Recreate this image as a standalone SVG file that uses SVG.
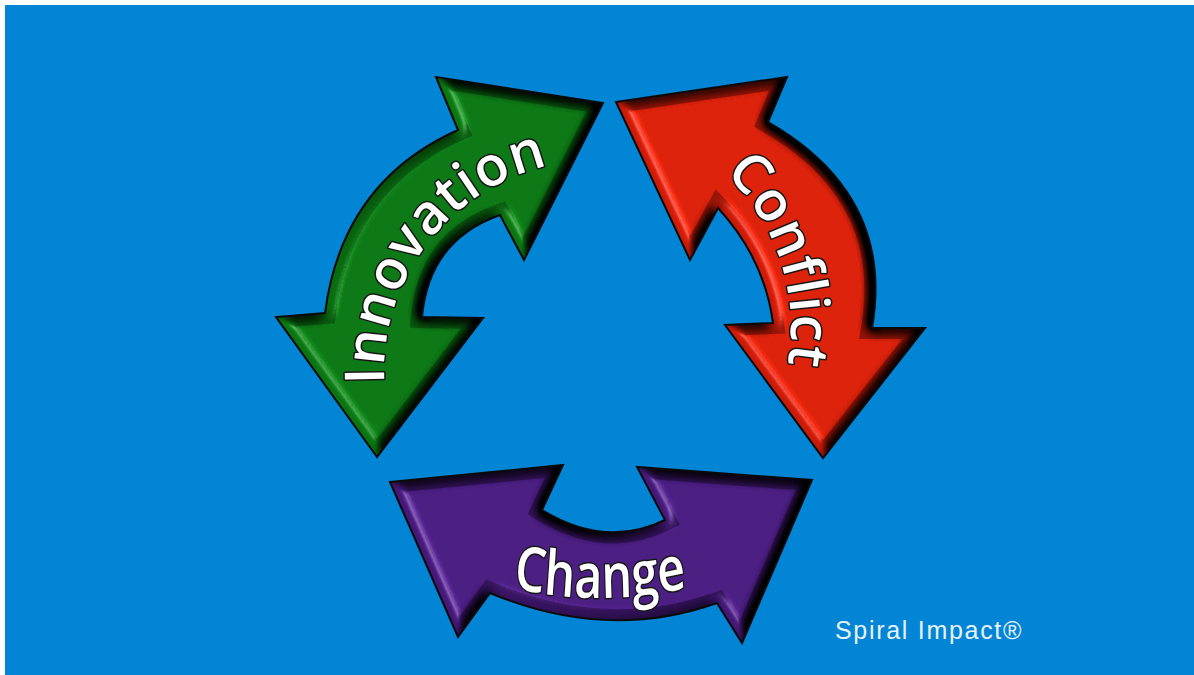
<svg xmlns="http://www.w3.org/2000/svg" xmlns:xlink="http://www.w3.org/1999/xlink" width="1194" height="675" viewBox="0 0 1194 675">
<defs>
<style>
.lbl{font-family:"Open Sans","Noto Sans",sans-serif;font-weight:600;fill:#ffffff;stroke:#161616;stroke-width:3;paint-order:stroke;stroke-linejoin:round}
.outline{fill:none;stroke:#0a0a0a;stroke-width:2;stroke-linejoin:miter}
.band{fill:none;stroke-width:22;stroke-linejoin:miter;opacity:0.55}
.brand{font-family:"Liberation Sans",Arial,sans-serif;font-size:25px;fill:#e8f2fb;letter-spacing:1.7px}
</style>
<filter id="bevel" x="-5%" y="-5%" width="110%" height="110%" color-interpolation-filters="sRGB">
<feGaussianBlur in="SourceAlpha" stdDeviation="6" result="b"/>
<feDiffuseLighting in="b" surfaceScale="11" diffuseConstant="1" lighting-color="#ffffff" result="l"><feDistantLight azimuth="160" elevation="45"/></feDiffuseLighting>
<feSpecularLighting in="b" surfaceScale="11" specularConstant="0.7" specularExponent="40" lighting-color="#ffffff" result="s"><feDistantLight azimuth="160" elevation="45"/></feSpecularLighting>
<feComposite in="s" in2="SourceAlpha" operator="in" result="s2"/>
<feComposite in="SourceGraphic" in2="l" operator="arithmetic" k1="1.414" k2="0" k3="0" k4="0" result="lit"/>
<feComposite in="lit" in2="s2" operator="arithmetic" k1="0" k2="1" k3="0.4" k4="0"/>
</filter>
<path id="pG" d="M377,457 L276,317 L325,313 Q342,182 458,130 L436,77 L603,103 L524,260 L500,215 Q429,240 422,317 L483,318 Z"/>
<path id="pR" d="M616,102 L787,77 L768,122 Q895,195 872,328 L925,328 L823,458 L725,325 L773,323 Q764.5,258.5 718,208 L690,260 Z"/>
<path id="pP" d="M390,482 L563,465 L542,510 Q606.5,549 665,520 L637,467 L812,480 L742,643 L717,603 Q606.5,642 490,593 L458,637 Z"/>
<clipPath id="cG"><use href="#pG"/></clipPath>
<clipPath id="cR"><use href="#pR"/></clipPath>
<clipPath id="cP"><use href="#pP"/></clipPath>
<path id="tG" d="M400.9,454.8 A212,212 0 0 1 621.8,161.6"/>
<path id="tR" d="M622.7,119.6 A212,212 0 0 1 736.8,468.6"/>
<path id="tP" d="M480,586 Q600,610 720,586"/>
</defs>
<rect x="0" y="0" width="1194" height="675" fill="#ffffff"/>
<rect x="5" y="5" width="1189" height="670" fill="#0385d6"/>
<g id="connectors"></g>
<g id="innovation">
<g filter="url(#bevel)">
<use href="#pG" fill="#0b7614"/>
<use href="#pG" class="band" stroke="#053a08" clip-path="url(#cG)"/>
</g>
<use href="#pG" class="outline"/>
<text class="lbl" font-size="55" letter-spacing="1"><textPath href="#tG" startOffset="50%" text-anchor="middle">Innovation</textPath></text>
</g>
<g id="conflict">
<g filter="url(#bevel)">
<use href="#pR" fill="#db200a"/>
<use href="#pR" class="band" stroke="#5a0a04" clip-path="url(#cR)"/>
</g>
<use href="#pR" class="outline"/>
<text class="lbl" font-size="55" letter-spacing="1"><textPath href="#tR" startOffset="50%" text-anchor="middle">Conflict</textPath></text>
</g>
<g id="change">
<g filter="url(#bevel)">
<use href="#pP" fill="#491c80"/>
<use href="#pP" class="band" stroke="#1e0a33" clip-path="url(#cP)"/>
</g>
<use href="#pP" class="outline"/>
<g transform="translate(600,0) scale(0.78,1) translate(-600,0)">
<text class="lbl" font-size="62"><textPath href="#tP" startOffset="50%" text-anchor="middle">Change</textPath></text>
</g>
</g>
<text class="brand" x="835" y="639">Spiral Impact®</text>
</svg>
